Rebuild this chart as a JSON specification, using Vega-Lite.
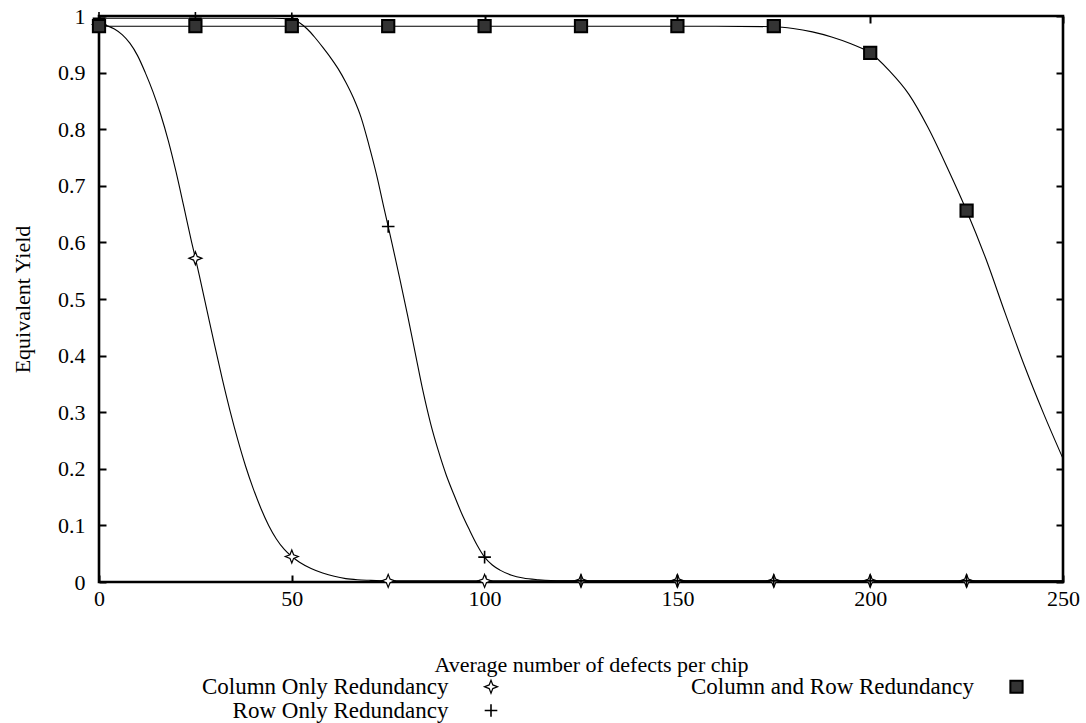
{
  "$schema": "https://vega.github.io/schema/vega-lite/v6.json",
  "width": 964,
  "height": 566,
  "autosize": {"type": "none"},
  "padding": {"left": 99, "top": 16, "right": 23, "bottom": 141},
  "background": "white",
  "config": {
    "font": "Liberation Serif",
    "view": {"stroke": "#000", "strokeWidth": 2.6},
    "axis": {
      "grid": false,
      "domain": false,
      "tickColor": "#000",
      "tickWidth": 2,
      "tickSize": -7,
      "labelFont": "Liberation Serif",
      "labelFontSize": 22,
      "labelColor": "#000",
      "titleFont": "Liberation Serif",
      "titleFontSize": 22,
      "titleFontWeight": "normal",
      "titleColor": "#000"
    }
  },
  "datasets": {
    "curves": [
      {"series": "Column Only Redundancy", "x": 0, "y": 0.985},
      {"series": "Column Only Redundancy", "x": 2, "y": 0.983},
      {"series": "Column Only Redundancy", "x": 4, "y": 0.977},
      {"series": "Column Only Redundancy", "x": 6, "y": 0.967},
      {"series": "Column Only Redundancy", "x": 8, "y": 0.952},
      {"series": "Column Only Redundancy", "x": 10, "y": 0.93},
      {"series": "Column Only Redundancy", "x": 12, "y": 0.9},
      {"series": "Column Only Redundancy", "x": 14, "y": 0.866},
      {"series": "Column Only Redundancy", "x": 16, "y": 0.826},
      {"series": "Column Only Redundancy", "x": 18, "y": 0.779},
      {"series": "Column Only Redundancy", "x": 20, "y": 0.724},
      {"series": "Column Only Redundancy", "x": 22, "y": 0.663},
      {"series": "Column Only Redundancy", "x": 24, "y": 0.601},
      {"series": "Column Only Redundancy", "x": 25, "y": 0.572},
      {"series": "Column Only Redundancy", "x": 26, "y": 0.542},
      {"series": "Column Only Redundancy", "x": 28, "y": 0.48},
      {"series": "Column Only Redundancy", "x": 30, "y": 0.418},
      {"series": "Column Only Redundancy", "x": 32, "y": 0.358},
      {"series": "Column Only Redundancy", "x": 34, "y": 0.302},
      {"series": "Column Only Redundancy", "x": 36, "y": 0.251},
      {"series": "Column Only Redundancy", "x": 38, "y": 0.205},
      {"series": "Column Only Redundancy", "x": 40, "y": 0.165},
      {"series": "Column Only Redundancy", "x": 42, "y": 0.13},
      {"series": "Column Only Redundancy", "x": 44, "y": 0.1},
      {"series": "Column Only Redundancy", "x": 46, "y": 0.076},
      {"series": "Column Only Redundancy", "x": 48, "y": 0.058},
      {"series": "Column Only Redundancy", "x": 50, "y": 0.045},
      {"series": "Column Only Redundancy", "x": 52, "y": 0.035},
      {"series": "Column Only Redundancy", "x": 55, "y": 0.024},
      {"series": "Column Only Redundancy", "x": 58, "y": 0.016},
      {"series": "Column Only Redundancy", "x": 61, "y": 0.01},
      {"series": "Column Only Redundancy", "x": 64, "y": 0.006},
      {"series": "Column Only Redundancy", "x": 67, "y": 0.004},
      {"series": "Column Only Redundancy", "x": 70, "y": 0.003},
      {"series": "Column Only Redundancy", "x": 75, "y": 0.002},
      {"series": "Column Only Redundancy", "x": 100, "y": 0.002},
      {"series": "Column Only Redundancy", "x": 150, "y": 0.002},
      {"series": "Column Only Redundancy", "x": 200, "y": 0.002},
      {"series": "Column Only Redundancy", "x": 250, "y": 0.002},
      {"series": "Row Only Redundancy", "x": 0, "y": 0.996},
      {"series": "Row Only Redundancy", "x": 25, "y": 0.996},
      {"series": "Row Only Redundancy", "x": 45, "y": 0.996},
      {"series": "Row Only Redundancy", "x": 50, "y": 0.995},
      {"series": "Row Only Redundancy", "x": 52, "y": 0.988},
      {"series": "Row Only Redundancy", "x": 54, "y": 0.977},
      {"series": "Row Only Redundancy", "x": 56, "y": 0.962},
      {"series": "Row Only Redundancy", "x": 58, "y": 0.945},
      {"series": "Row Only Redundancy", "x": 60, "y": 0.927},
      {"series": "Row Only Redundancy", "x": 62, "y": 0.907},
      {"series": "Row Only Redundancy", "x": 64, "y": 0.883},
      {"series": "Row Only Redundancy", "x": 66, "y": 0.855},
      {"series": "Row Only Redundancy", "x": 68, "y": 0.82},
      {"series": "Row Only Redundancy", "x": 70, "y": 0.772},
      {"series": "Row Only Redundancy", "x": 72, "y": 0.719},
      {"series": "Row Only Redundancy", "x": 74, "y": 0.658},
      {"series": "Row Only Redundancy", "x": 75, "y": 0.628},
      {"series": "Row Only Redundancy", "x": 76, "y": 0.598},
      {"series": "Row Only Redundancy", "x": 78, "y": 0.536},
      {"series": "Row Only Redundancy", "x": 80, "y": 0.472},
      {"series": "Row Only Redundancy", "x": 82, "y": 0.405},
      {"series": "Row Only Redundancy", "x": 84, "y": 0.338},
      {"series": "Row Only Redundancy", "x": 86, "y": 0.28},
      {"series": "Row Only Redundancy", "x": 88, "y": 0.232},
      {"series": "Row Only Redundancy", "x": 90, "y": 0.19},
      {"series": "Row Only Redundancy", "x": 92, "y": 0.155},
      {"series": "Row Only Redundancy", "x": 94, "y": 0.122},
      {"series": "Row Only Redundancy", "x": 96, "y": 0.093},
      {"series": "Row Only Redundancy", "x": 98, "y": 0.066},
      {"series": "Row Only Redundancy", "x": 100, "y": 0.044},
      {"series": "Row Only Redundancy", "x": 102, "y": 0.03},
      {"series": "Row Only Redundancy", "x": 104, "y": 0.021},
      {"series": "Row Only Redundancy", "x": 107, "y": 0.012},
      {"series": "Row Only Redundancy", "x": 110, "y": 0.007},
      {"series": "Row Only Redundancy", "x": 114, "y": 0.004},
      {"series": "Row Only Redundancy", "x": 120, "y": 0.002},
      {"series": "Row Only Redundancy", "x": 150, "y": 0.002},
      {"series": "Row Only Redundancy", "x": 200, "y": 0.002},
      {"series": "Row Only Redundancy", "x": 250, "y": 0.002},
      {"series": "Column and Row Redundancy", "x": 0, "y": 0.982},
      {"series": "Column and Row Redundancy", "x": 100, "y": 0.982},
      {"series": "Column and Row Redundancy", "x": 160, "y": 0.982},
      {"series": "Column and Row Redundancy", "x": 175, "y": 0.981},
      {"series": "Column and Row Redundancy", "x": 180, "y": 0.978},
      {"series": "Column and Row Redundancy", "x": 185, "y": 0.972},
      {"series": "Column and Row Redundancy", "x": 190, "y": 0.963},
      {"series": "Column and Row Redundancy", "x": 195, "y": 0.951},
      {"series": "Column and Row Redundancy", "x": 200, "y": 0.935},
      {"series": "Column and Row Redundancy", "x": 205, "y": 0.903},
      {"series": "Column and Row Redundancy", "x": 210, "y": 0.862},
      {"series": "Column and Row Redundancy", "x": 215, "y": 0.803},
      {"series": "Column and Row Redundancy", "x": 220, "y": 0.732},
      {"series": "Column and Row Redundancy", "x": 225, "y": 0.656},
      {"series": "Column and Row Redundancy", "x": 230, "y": 0.571},
      {"series": "Column and Row Redundancy", "x": 235, "y": 0.475},
      {"series": "Column and Row Redundancy", "x": 240, "y": 0.382},
      {"series": "Column and Row Redundancy", "x": 245, "y": 0.297},
      {"series": "Column and Row Redundancy", "x": 250, "y": 0.218}
    ],
    "markers": [
      {"series": "Column Only Redundancy", "x": 0, "y": 0.985},
      {"series": "Column Only Redundancy", "x": 25, "y": 0.572},
      {"series": "Column Only Redundancy", "x": 50, "y": 0.045},
      {"series": "Column Only Redundancy", "x": 75, "y": 0.002},
      {"series": "Column Only Redundancy", "x": 100, "y": 0.002},
      {"series": "Column Only Redundancy", "x": 125, "y": 0.002},
      {"series": "Column Only Redundancy", "x": 150, "y": 0.002},
      {"series": "Column Only Redundancy", "x": 175, "y": 0.002},
      {"series": "Column Only Redundancy", "x": 200, "y": 0.002},
      {"series": "Column Only Redundancy", "x": 225, "y": 0.002},
      {"series": "Row Only Redundancy", "x": 0, "y": 0.996},
      {"series": "Row Only Redundancy", "x": 25, "y": 0.996},
      {"series": "Row Only Redundancy", "x": 50, "y": 0.995},
      {"series": "Row Only Redundancy", "x": 75, "y": 0.628},
      {"series": "Row Only Redundancy", "x": 100, "y": 0.044},
      {"series": "Row Only Redundancy", "x": 125, "y": 0.002},
      {"series": "Row Only Redundancy", "x": 150, "y": 0.002},
      {"series": "Row Only Redundancy", "x": 175, "y": 0.002},
      {"series": "Row Only Redundancy", "x": 200, "y": 0.002},
      {"series": "Row Only Redundancy", "x": 225, "y": 0.002},
      {"series": "Column and Row Redundancy", "x": 0, "y": 0.982},
      {"series": "Column and Row Redundancy", "x": 25, "y": 0.982},
      {"series": "Column and Row Redundancy", "x": 50, "y": 0.982},
      {"series": "Column and Row Redundancy", "x": 75, "y": 0.982},
      {"series": "Column and Row Redundancy", "x": 100, "y": 0.982},
      {"series": "Column and Row Redundancy", "x": 125, "y": 0.982},
      {"series": "Column and Row Redundancy", "x": 150, "y": 0.982},
      {"series": "Column and Row Redundancy", "x": 175, "y": 0.982},
      {"series": "Column and Row Redundancy", "x": 200, "y": 0.935},
      {"series": "Column and Row Redundancy", "x": 225, "y": 0.656}
    ]
  },
  "layer": [
    {
      "data": {"name": "curves"},
      "mark": {"type": "line", "stroke": "#000", "strokeWidth": 1.1, "interpolate": "monotone"},
      "encoding": {
        "x": {
          "field": "x",
          "type": "quantitative",
          "scale": {"domain": [0, 250], "nice": false, "zero": false},
          "axis": {
            "orient": "bottom",
            "values": [0, 50, 100, 150, 200, 250],
            "labelPadding": 13,
            "labelFlush": false,
            "title": "Average number of defects per chip",
            "titleX": 492,
            "titleY": 89,
            "titleBaseline": "alphabetic"
          }
        },
        "y": {
          "field": "y",
          "type": "quantitative",
          "scale": {"domain": [0, 1], "nice": false},
          "axis": {
            "orient": "left",
            "values": [0, 0.1, 0.2, 0.3, 0.4, 0.5, 0.6, 0.7, 0.8, 0.9, 1],
            "format": "~g",
            "labelPadding": 21,
            "labelFlush": false,
            "title": "Equivalent Yield",
            "titleX": -77,
            "titleY": 283,
            "titleBaseline": "middle"
          }
        },
        "detail": {"field": "series"}
      }
    },
    {
      "data": {"name": "markers"},
      "mark": {"type": "point", "stroke": "#000", "opacity": 1},
      "encoding": {
        "x": {
          "field": "x",
          "type": "quantitative",
          "axis": {"orient": "top", "values": [0, 50, 100, 150, 200, 250], "labels": false, "title": null}
        },
        "y": {
          "field": "y",
          "type": "quantitative",
          "axis": {"orient": "right", "values": [0, 0.1, 0.2, 0.3, 0.4, 0.5, 0.6, 0.7, 0.8, 0.9, 1], "labels": false, "title": null}
        },
        "shape": {
          "field": "series",
          "type": "nominal",
          "scale": {
            "domain": ["Column Only Redundancy", "Row Only Redundancy", "Column and Row Redundancy"],
            "range": ["M0,-1L0.28,-0.28L1,0L0.28,0.28L0,1L-0.28,0.28L-1,0L-0.28,-0.28Z", "M-1,0L1,0M0,-1L0,1", "square"]
          },
          "legend": {
            "title": null,
            "orient": "none",
            "legendX": 31,
            "legendY": 659,
            "columns": 2,
            "columnPadding": 154.5,
            "rowPadding": 0,
            "padding": 0,
            "labelAlign": "right",
            "labelOffset": -54,
            "symbolOffset": 349.5,
            "labelFont": "Liberation Serif",
            "labelFontSize": 23,
            "labelColor": "#000",
            "labelLimit": 500,
            "symbolStrokeColor": "#000"
          }
        },
        "fill": {
          "field": "series",
          "type": "nominal",
          "scale": {
            "domain": ["Column Only Redundancy", "Row Only Redundancy", "Column and Row Redundancy"],
            "range": ["white", "white", "#333"]
          }
        },
        "size": {
          "field": "series",
          "type": "nominal",
          "scale": {
            "domain": ["Column Only Redundancy", "Row Only Redundancy", "Column and Row Redundancy"],
            "range": [169, 150, 150]
          }
        },
        "strokeWidth": {
          "field": "series",
          "type": "nominal",
          "scale": {
            "domain": ["Column Only Redundancy", "Row Only Redundancy", "Column and Row Redundancy"],
            "range": [1.2, 2, 1]
          }
        }
      }
    }
  ],
  "resolve": {"axis": {"x": "independent", "y": "independent"}}
}
